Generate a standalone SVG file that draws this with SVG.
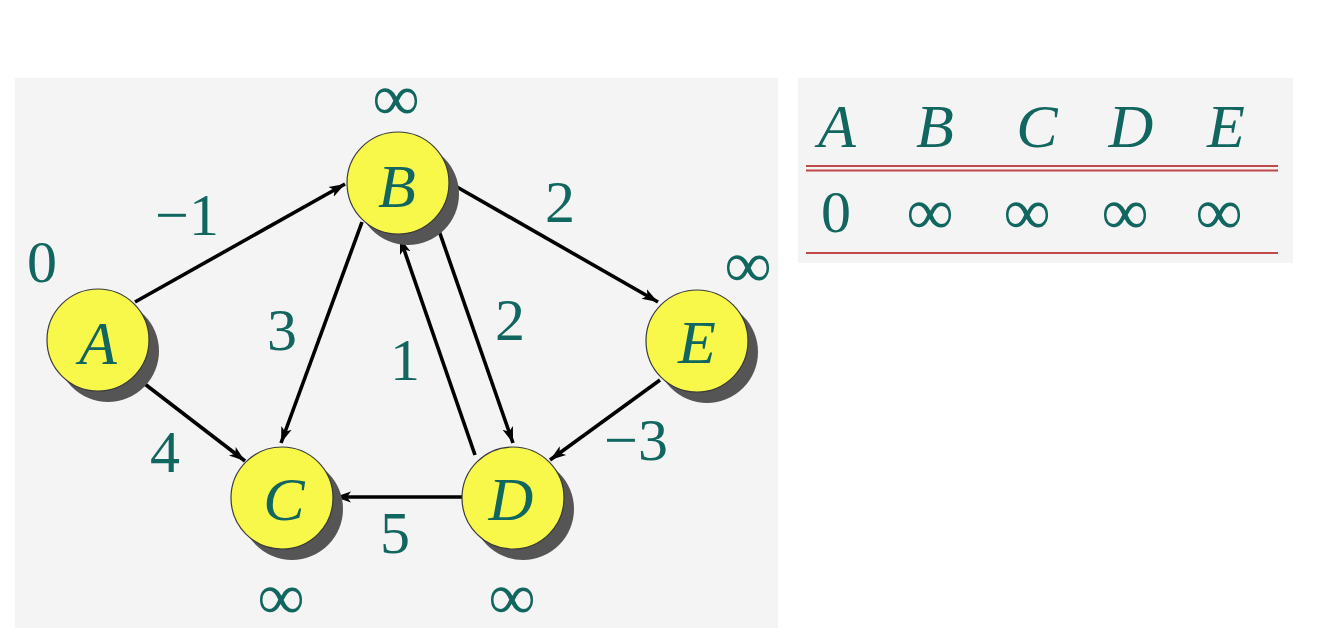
<svg xmlns="http://www.w3.org/2000/svg" width="1318" height="641" viewBox="0 0 1318 641">
<style>
.panel{fill:#f4f4f4}
.sh{fill:#555555}
.nd{fill:#f8f84a;stroke:#3a3a3a;stroke-width:1.2}
.lt{font-family:'Liberation Serif','Times New Roman',serif;font-style:italic;font-size:62px;fill:#11665f;text-anchor:middle}
.lb{font-family:'Liberation Serif','Times New Roman',serif;font-size:60px;fill:#11665f;text-anchor:middle}
.inf{font-family:'Liberation Serif','Times New Roman',serif;font-size:66px;fill:#11665f;text-anchor:middle}
.e{stroke:#000;stroke-width:3.6;fill:none;marker-end:url(#ah)}
.red{stroke:#c0474a;stroke-width:2}
</style>
<defs>
<marker id="ah" markerUnits="userSpaceOnUse" markerWidth="18" markerHeight="14" refX="16" refY="7" orient="auto">
<path d="M0,1.5 L16,7 L0,12.5 L4,7 Z" fill="#000"/>
</marker>
</defs>
<rect class="panel" x="15" y="78" width="763" height="550"/>
<rect class="panel" x="798" y="78" width="495" height="185"/>
<g id="connectors">
<line class="e" x1="135" y1="302" x2="345" y2="184"/>
<line class="e" x1="137" y1="378" x2="245" y2="461"/>
<line class="e" x1="362" y1="222" x2="281" y2="443"/>
<line class="e" x1="475" y1="455" x2="400" y2="238"/>
<line class="e" x1="436" y1="222" x2="513" y2="443"/>
<line class="e" x1="450" y1="183" x2="658" y2="302"/>
<line class="e" x1="660" y1="380" x2="550" y2="460"/>
<line class="e" x1="462" y1="497" x2="335" y2="497"/>
<text class="lb" x="187" y="235">−1</text>
<text class="lb" x="282" y="350">3</text>
<text class="lb" x="405" y="380">1</text>
<text class="lb" x="510" y="340">2</text>
<text class="lb" x="560" y="222">2</text>
<text class="lb" x="165" y="472">4</text>
<text class="lb" x="636" y="460">−3</text>
<text class="lb" x="395" y="553">5</text>
</g>
<g id="A">
<circle class="sh" cx="108" cy="351" r="51"/>
<circle class="nd" cx="98" cy="340" r="51"/>
<text class="lt" x="98" y="364">A</text>
<text class="lb" x="42" y="282">0</text>
</g>
<g id="B">
<circle class="sh" cx="408" cy="194" r="51"/>
<circle class="nd" cx="398" cy="183" r="51"/>
<text class="lt" x="397" y="207">B</text>
<text class="inf" x="396" y="120">∞</text>
</g>
<g id="C">
<circle class="sh" cx="292" cy="509" r="51"/>
<circle class="nd" cx="282" cy="498" r="51"/>
<text class="lt" x="284" y="520">C</text>
<text class="inf" x="281" y="619">∞</text>
</g>
<g id="D">
<circle class="sh" cx="523" cy="509" r="51"/>
<circle class="nd" cx="513" cy="498" r="51"/>
<text class="lt" x="511" y="520">D</text>
<text class="inf" x="512" y="619">∞</text>
</g>
<g id="E">
<circle class="sh" cx="707" cy="352" r="51"/>
<circle class="nd" cx="697" cy="341" r="51"/>
<text class="lt" x="697" y="363">E</text>
<text class="inf" x="748" y="287">∞</text>
</g>
<g id="table">
<text class="lt" x="837" y="147">A</text>
<text class="lt" x="935" y="147">B</text>
<text class="lt" x="1037" y="147">C</text>
<text class="lt" x="1131" y="147">D</text>
<text class="lt" x="1226" y="147">E</text>
<line class="red" x1="806" y1="166" x2="1278" y2="166"/>
<line class="red" x1="806" y1="170.5" x2="1278" y2="170.5"/>
<text class="lb" x="836" y="232">0</text>
<text class="inf" x="930" y="234">∞</text>
<text class="inf" x="1027" y="234">∞</text>
<text class="inf" x="1125" y="234">∞</text>
<text class="inf" x="1219" y="234">∞</text>
<line class="red" x1="806" y1="253" x2="1278" y2="253"/>
</g>
</svg>
